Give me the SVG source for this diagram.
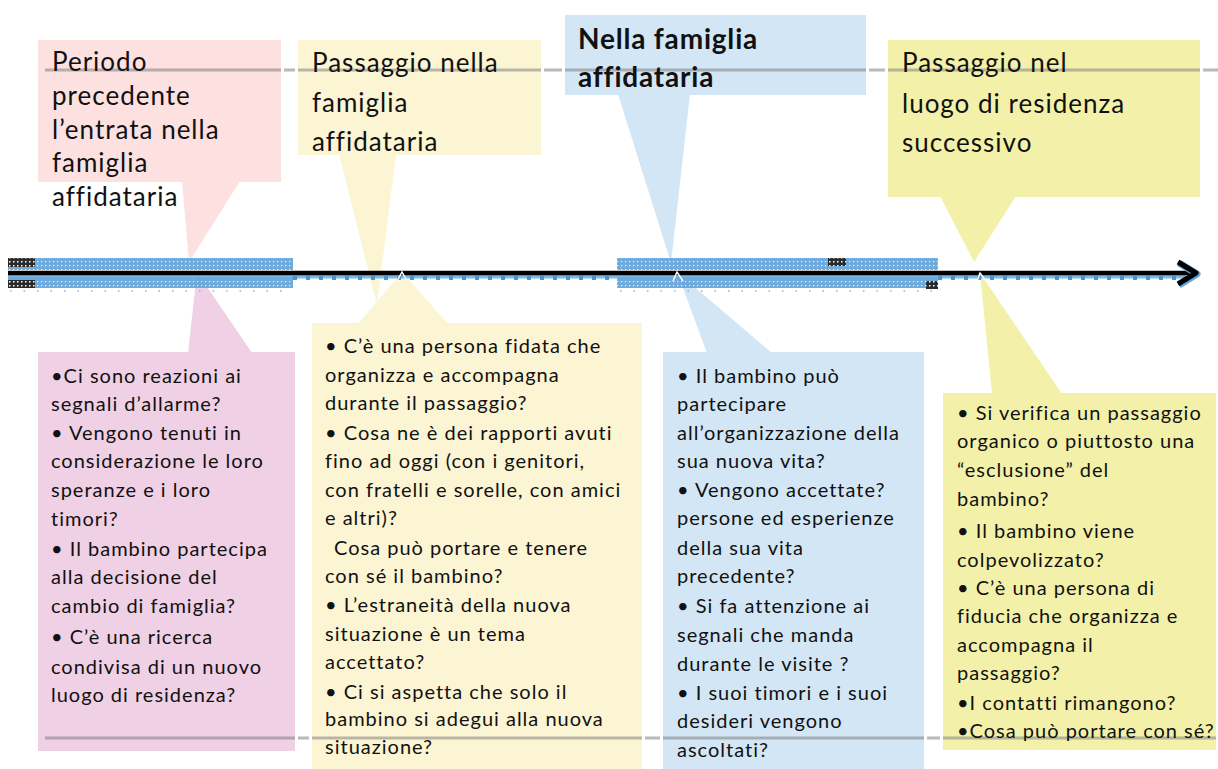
<svg xmlns="http://www.w3.org/2000/svg" width="1218" height="769" viewBox="0 0 1218 769">
<defs>
<style>
.title{font-family:Lato,"Open Sans",sans-serif;font-size:26px;fill:#111;letter-spacing:1px}
.btitle{font-family:Lato,"Open Sans",sans-serif;font-size:28px;font-weight:bold;fill:#111;letter-spacing:0.8px}
.body{font-family:Lato,"Open Sans",sans-serif;font-size:20px;fill:#111;letter-spacing:1px}
.pink{fill:#fde1e1}
.mauve{fill:#efd0e5}
.ly{fill:#fcf5d4}
.blue{fill:#d3e6f5}
.sy{fill:#f3f1a9}
.guide{stroke:#7f7f7f;stroke-opacity:0.55;stroke-width:3;fill:none}
.caret{stroke:#fff;stroke-width:1.5;fill:none}
</style>
<pattern id="dots" width="4" height="4" patternUnits="userSpaceOnUse">
<rect width="4" height="4" fill="#5ea2dc"/>
<rect x="1" y="1" width="1.2" height="1.2" fill="#e6f2fc"/>
</pattern>
<pattern id="darkdots" width="4" height="4" patternUnits="userSpaceOnUse">
<rect width="4" height="4" fill="#2a2a2a"/>
<rect x="1" y="1" width="1.5" height="1.5" fill="#ffffff"/>
</pattern>
</defs>
<rect width="1218" height="769" fill="#ffffff"/>

<g id="node-top-1">
<rect class="pink" x="38" y="40" width="243" height="142"/>
<polygon class="pink" points="182,181 240,181 189,262"/>
</g>
<g id="node-top-2">
<rect class="ly" x="298" y="40" width="243" height="115"/>
<polygon class="ly" points="339,154 396,154 377,305"/>
</g>
<g id="node-top-3">
<rect class="blue" x="565" y="15" width="301" height="80"/>
<polygon class="blue" points="618,94 690,94 671,263"/>
</g>
<g id="node-top-4">
<rect class="sy" x="888" y="40" width="312" height="157"/>
<polygon class="sy" points="940,196 1016,196 974,262"/>
</g>
<g id="node-bottom-1">
<rect class="mauve" x="38" y="352" width="257" height="399"/>
<polygon class="mauve" points="188,353 252,353 197,272"/>
</g>
<g id="node-bottom-2">
<rect class="ly" x="312" y="323" width="330" height="446"/>
<polygon class="ly" points="358,324 448,324 402,272"/>
</g>
<g id="node-bottom-3">
<rect class="blue" x="663" y="352" width="261" height="417"/>
<polygon class="blue" points="707,353 772,353 677,272"/>
</g>
<g id="node-bottom-4">
<rect class="sy" x="943" y="393" width="273" height="357"/>
<polygon class="sy" points="992,394 1062,394 980,273"/>
</g>

<g id="guides">
<path class="guide" d="M45 70H281M284 70H295M298 70H541M544 70H562M565 70H866M869 70H885M888 70H1200M1203 70H1218"/>
<path class="guide" d="M45 738H295M298 738H309M312 738H642M645 738H660M663 738H924M927 738H940M943 738H1216"/>
</g>

<g id="connectors">
<rect x="8" y="258" width="285" height="12" fill="url(#dots)" fill-opacity="0.9"/>
<rect x="8" y="277" width="285" height="11" fill="url(#dots)" fill-opacity="0.9"/>
<rect x="617" y="258" width="321" height="12" fill="url(#dots)" fill-opacity="0.9"/>
<rect x="617" y="277" width="321" height="11" fill="url(#dots)" fill-opacity="0.9"/>
<rect x="8" y="258" width="27" height="9" fill="url(#darkdots)"/>
<rect x="8" y="280" width="27" height="8" fill="url(#darkdots)"/>
<rect x="828" y="258" width="18" height="8" fill="url(#darkdots)"/>
<rect x="926" y="281" width="12" height="8" fill="url(#darkdots)"/>
<path d="M10 291H293M620 291H938" stroke="#7fb6e6" stroke-width="1.5" stroke-dasharray="1.5 12"/>
<path d="M8 275H1186" stroke="#5ea6dc" stroke-width="7" stroke-opacity="0.8"/>
<path d="M293 278H617M938 278H1180" stroke="#4a94d0" stroke-width="4" stroke-dasharray="4 9"/>
<path d="M8 273H1194" stroke="#000" stroke-width="4.5"/>
<polyline points="1179,263 1197,274 1179,285" fill="none" stroke="#5ea6dc" stroke-width="7" stroke-linejoin="round"/>
<polyline points="1178,262 1196,273 1178,284" fill="none" stroke="#000" stroke-width="5" stroke-linejoin="round"/>
<polyline class="caret" points="397,281 402,272 407,281"/>
<polyline class="caret" points="673,281 677,272 683,281"/>
<polyline class="caret" points="977,281 980,273 986,281"/>
</g>

<g id="text-top-1" class="title">
<text x="52" y="71">Periodo</text>
<text x="52" y="105">precedente</text>
<text x="52" y="139">l’entrata nella</text>
<text x="52" y="172">famiglia</text>
<text x="52" y="206">affidataria</text>
</g>
<g id="text-top-2" class="title">
<text x="312" y="72">Passaggio nella</text>
<text x="312" y="112">famiglia</text>
<text x="312" y="151">affidataria</text>
</g>
<g id="text-top-3" class="btitle">
<text x="578" y="49">Nella famiglia</text>
<text x="578" y="87">affidataria</text>
</g>
<g id="text-top-4" class="title">
<text x="902" y="72">Passaggio nel</text>
<text x="902" y="113">luogo di residenza</text>
<text x="902" y="152">successivo</text>
</g>

<g id="text-bottom-1" class="body">
<text x="51" y="383">•Ci sono reazioni ai</text>
<text x="51" y="411">segnali d’allarme?</text>
<text x="51" y="440">• Vengono tenuti in</text>
<text x="51" y="468">considerazione le loro</text>
<text x="51" y="497">speranze e i loro</text>
<text x="51" y="526">timori?</text>
<text x="51" y="556">• Il bambino partecipa</text>
<text x="51" y="584">alla decisione del</text>
<text x="51" y="613">cambio di famiglia?</text>
<text x="51" y="644">• C’è una ricerca</text>
<text x="51" y="674">condivisa di un nuovo</text>
<text x="51" y="702">luogo di residenza?</text>
</g>
<g id="text-bottom-2" class="body">
<text x="325" y="353">• C’è una persona fidata che</text>
<text x="325" y="382">organizza e accompagna</text>
<text x="325" y="410">durante il passaggio?</text>
<text x="325" y="440">• Cosa ne è dei rapporti avuti</text>
<text x="325" y="468">fino ad oggi (con i genitori,</text>
<text x="325" y="497">con fratelli e sorelle, con amici</text>
<text x="325" y="525">e altri)?</text>
<text x="334" y="555">Cosa può portare e tenere</text>
<text x="325" y="583">con sé il bambino?</text>
<text x="325" y="612">•  L’estraneità della nuova</text>
<text x="325" y="641">situazione è un tema</text>
<text x="325" y="669">accettato?</text>
<text x="325" y="699">• Ci si aspetta che solo il</text>
<text x="325" y="726">bambino si adegui alla nuova</text>
<text x="325" y="754">situazione?</text>
</g>
<g id="text-bottom-3" class="body">
<text x="677" y="383">• Il bambino può</text>
<text x="677" y="411">partecipare</text>
<text x="677" y="440">all’organizzazione della</text>
<text x="677" y="468">sua nuova vita?</text>
<text x="677" y="497">• Vengono accettate?</text>
<text x="677" y="525">persone ed esperienze</text>
<text x="677" y="555">della sua vita</text>
<text x="677" y="583">precedente?</text>
<text x="677" y="613">• Si fa attenzione ai</text>
<text x="677" y="642">segnali che manda</text>
<text x="677" y="671">durante le visite ?</text>
<text x="677" y="700">• I suoi timori e i suoi</text>
<text x="677" y="728">desideri vengono</text>
<text x="677" y="757">ascoltati?</text>
</g>
<g id="text-bottom-4" class="body">
<text x="957" y="420">• Si verifica un passaggio</text>
<text x="957" y="448">organico o piuttosto una</text>
<text x="957" y="477">“esclusione” del</text>
<text x="957" y="506">bambino?</text>
<text x="957" y="538">•  Il bambino viene</text>
<text x="957" y="567">colpevolizzato?</text>
<text x="957" y="595">• C’è una persona di</text>
<text x="957" y="623">fiducia che organizza e</text>
<text x="957" y="652">accompagna il</text>
<text x="957" y="680">passaggio?</text>
<text x="957" y="710">•I contatti rimangono?</text>
<text x="957" y="738">•Cosa può portare con sé?</text>
</g>
</svg>
